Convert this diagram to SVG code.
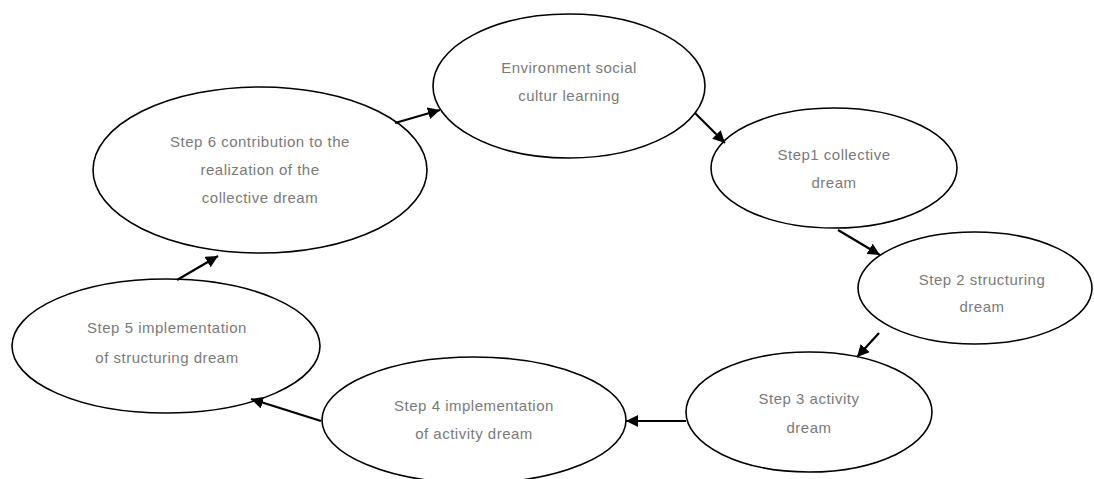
<svg xmlns="http://www.w3.org/2000/svg" width="1094" height="479" viewBox="0 0 1094 479">
<style>
.n ellipse{fill:#fff;stroke:#000;stroke-width:1.6}
.n text{font-family:"Liberation Sans Narrow","Liberation Sans",Arial,sans-serif;font-size:15px;fill:#7a7a7a;text-anchor:middle;letter-spacing:0.5px}
.c line{stroke:#000;stroke-width:2.2;marker-end:url(#ah)}
</style>
<defs>
<marker id="ah" viewBox="0 0 10 10" refX="10" refY="5" markerWidth="5.5" markerHeight="5.5" orient="auto" markerUnits="strokeWidth">
<path d="M0,0 L10,5 L0,10 z" fill="#000"/>
</marker>
</defs>
<rect width="1094" height="479" fill="#fff"/>
<g id="env" class="n"><ellipse cx="569" cy="86" rx="136" ry="72"/><text x="569" y="73">Environment social</text><text x="569" y="101">cultur learning</text></g>
<g id="step1" class="n"><ellipse cx="834" cy="168" rx="123" ry="60"/><text x="834" y="160">Step1 collective</text><text x="834" y="188">dream</text></g>
<g id="step2" class="n"><ellipse cx="975" cy="288" rx="117" ry="56"/><text x="982" y="285">Step 2 structuring</text><text x="982" y="312">dream</text></g>
<g id="step3" class="n"><ellipse cx="809" cy="412" rx="123" ry="60"/><text x="809" y="404">Step 3 activity</text><text x="809" y="433">dream</text></g>
<g id="step4" class="n"><ellipse cx="474" cy="420" rx="152" ry="63"/><text x="474" y="411">Step 4 implementation</text><text x="474" y="439">of activity dream</text></g>
<g id="step5" class="n"><ellipse cx="166" cy="346" rx="154" ry="67"/><text x="167" y="333">Step 5 implementation</text><text x="167" y="363">of structuring dream</text></g>
<g id="step6" class="n"><ellipse cx="260" cy="170" rx="167" ry="83"/><text x="260" y="147">Step 6 contribution to the</text><text x="260" y="175">realization of the</text><text x="260" y="203">collective dream</text></g>
<g id="connectors" class="c">
<line x1="395" y1="123" x2="440" y2="110"/>
<line x1="695" y1="113" x2="725" y2="143"/>
<line x1="838" y1="230" x2="880" y2="255"/>
<line x1="879" y1="333" x2="857" y2="357"/>
<line x1="686" y1="421" x2="626" y2="421"/>
<line x1="321" y1="421" x2="251" y2="399"/>
<line x1="177" y1="280" x2="218" y2="256"/>
</g>
</svg>
